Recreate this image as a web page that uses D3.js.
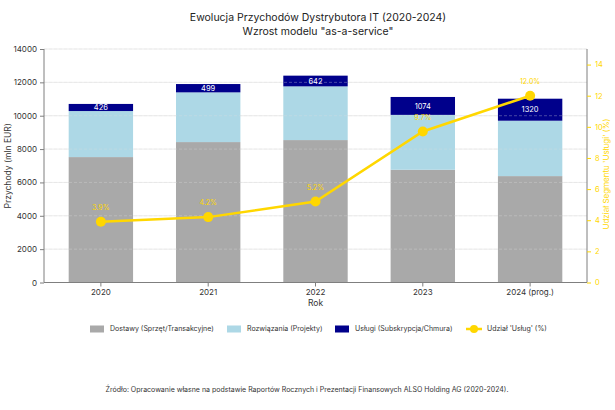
<!DOCTYPE html>
<html>
<head>
<meta charset="utf-8">
<script src="https://cdn.jsdelivr.net/npm/d3@7"></script>
<style>
  body { margin: 0; background: #fff; }
  text { font-family: Inter, "Open Sans", sans-serif; }
</style>
</head>
<body>
<div id="chart"></div>
<script>
var years = ["2020", "2021", "2022", "2023", "2024 (prog.)"];
var dostawy = [7520, 8420, 8540, 6760, 6380];
var rozwiazania = [2760, 2980, 3220, 3290, 3320];
var uslugi = [426, 499, 642, 1074, 1320];
var udzial = [3.9, 4.2, 5.2, 9.7, 12.0];
var leftTicks = [0, 2000, 4000, 6000, 8000, 10000, 12000, 14000];
var rightTicks = [0, 2, 4, 6, 8, 10, 12, 14];

var seriesNames = ["Dostawy (Sprzęt/Transakcyjne)", "Rozwiązania (Projekty)", "Usługi (Subskrypcja/Chmura)"];
var seriesColors = ["#a9a9a9", "#add8e6", "#00008b"];
var lineName = "Udział 'Usług' (%)";
var gold = "#ffd700";

var width = 615, height = 410;
var plotL = 44, plotR = 587, plotT = 49, plotB = 282.5;

var svg = d3.select("#chart").append("svg")
  .attr("width", width)
  .attr("height", height);

var x = d3.scaleBand().domain(years).range([plotL, plotR]).paddingInner(0.4).paddingOuter(0.23);
var y = d3.scaleLinear().domain([0, 14000]).range([plotB, plotT]);
var y2 = d3.scaleLinear().domain([0, 15]).range([plotB, plotT]);

// grid behind bars
svg.append("g").selectAll("line")
  .data(leftTicks.slice(1))
  .enter().append("line")
    .attr("x1", plotL).attr("x2", plotR)
    .attr("y1", function(d) { return y(d); })
    .attr("y2", function(d) { return y(d); })
    .attr("stroke", "#e6e6e6")
    .attr("stroke-width", 0.8);

// stacked data
var rows = years.map(function(yr, i) {
  return {year: yr, d: dostawy[i], r: rozwiazania[i], u: uslugi[i]};
});
var stack = d3.stack().keys(["d", "r", "u"])(rows);

svg.append("g").selectAll("g")
  .data(stack)
  .enter().append("g")
    .attr("fill", function(s, i) { return seriesColors[i]; })
  .selectAll("rect")
  .data(function(s) { return s; })
  .enter().append("rect")
    .attr("x", function(d) { return x(d.data.year); })
    .attr("width", x.bandwidth())
    .attr("y", function(d) { return y(d[1]); })
    .attr("height", function(d) { return y(d[0]) - y(d[1]); });

// faint dashed grid over bars
svg.append("g").selectAll("line")
  .data(leftTicks.slice(1))
  .enter().append("line")
    .attr("x1", plotL).attr("x2", plotR)
    .attr("y1", function(d) { return y(d); })
    .attr("y2", function(d) { return y(d); })
    .attr("stroke", "#e0e0e0")
    .attr("stroke-opacity", 0.45)
    .attr("stroke-dasharray", "3,2")
    .attr("stroke-width", 0.7);

// service labels
svg.append("g").selectAll("text")
  .data(stack[2])
  .enter().append("text")
    .attr("x", function(d) { return x(d.data.year) + x.bandwidth() / 2; })
    .attr("y", function(d) { return (y(d[0]) + y(d[1])) / 2; })
    .attr("dy", "0.35em")
    .attr("text-anchor", "middle")
    .attr("fill", "#fff")
    .attr("font-size", 7.5)
    .text(function(d) { return d.data.u; });

// axes
var axisColor = "#7f7f7f";
var gLeft = svg.append("g")
  .attr("transform", "translate(" + plotL + ",0)")
  .call(d3.axisLeft(y).tickValues(leftTicks).tickFormat(d3.format("d")).tickSize(4).tickPadding(3));
var gRight = svg.append("g")
  .attr("transform", "translate(" + plotR + ",0)")
  .call(d3.axisRight(y2).tickValues(rightTicks).tickFormat(d3.format("d")).tickSize(4).tickPadding(4));
var gBottom = svg.append("g")
  .attr("transform", "translate(0," + plotB + ")")
  .call(d3.axisBottom(x).tickSize(4).tickPadding(3));

[gLeft, gRight, gBottom].forEach(function(g) {
  g.select(".domain").attr("stroke", axisColor);
  g.selectAll(".tick line").attr("stroke", axisColor);
  g.selectAll("text").attr("font-size", 8).attr("fill", "#333")
    .style("font-family", "Inter, 'Open Sans', sans-serif");
});
gLeft.select(".domain").attr("d", "M0," + plotT + "V" + plotB);
gRight.select(".domain").attr("d", "M0," + plotT + "V" + plotB);
gBottom.select(".domain").attr("d", "M" + plotL + ",0H" + plotR);
gRight.selectAll("text").attr("fill", gold).attr("font-size", 7.5);
gRight.selectAll(".tick line").attr("stroke", gold);

// line
var line = d3.line()
  .x(function(d, i) { return x(years[i]) + x.bandwidth() / 2; })
  .y(function(d) { return y2(d); });

svg.append("path")
  .datum(udzial)
  .attr("fill", "none")
  .attr("stroke", gold)
  .attr("stroke-width", 2.5)
  .attr("d", line);

svg.append("g").selectAll("circle")
  .data(udzial)
  .enter().append("circle")
    .attr("cx", function(d, i) { return x(years[i]) + x.bandwidth() / 2; })
    .attr("cy", function(d) { return y2(d); })
    .attr("r", 5)
    .attr("fill", gold);

svg.append("g").selectAll("text")
  .data(udzial)
  .enter().append("text")
    .attr("x", function(d, i) { return x(years[i]) + x.bandwidth() / 2; })
    .attr("y", function(d) { return y2(d) - 12; })
    .attr("text-anchor", "middle")
    .attr("fill", gold)
    .attr("font-size", 7)
    .text(function(d) { return d.toFixed(1) + "%"; });

// titles
svg.append("text")
  .attr("x", 318).attr("y", 21)
  .attr("text-anchor", "middle")
  .attr("font-size", 10.5)
  .attr("fill", "#222")
  .text("Ewolucja Przychodów Dystrybutora IT (2020-2024)");
svg.append("text")
  .attr("x", 318).attr("y", 35)
  .attr("text-anchor", "middle")
  .attr("font-size", 10.5)
  .attr("fill", "#222")
  .text("Wzrost modelu \"as-a-service\"");

svg.append("text")
  .attr("transform", "translate(11," + ((plotT + plotB) / 2) + ") rotate(-90)")
  .attr("text-anchor", "middle")
  .attr("font-size", 8.5)
  .attr("fill", "#333")
  .text("Przychody (mln EUR)");
svg.append("text")
  .attr("transform", "translate(609,174) rotate(-90)")
  .attr("text-anchor", "middle")
  .attr("font-size", 8)
  .attr("fill", gold)
  .text("Udział Segmentu 'Usługi' (%)");
svg.append("text")
  .attr("x", (plotL + plotR) / 2).attr("y", 306)
  .attr("text-anchor", "middle")
  .attr("font-size", 8.5)
  .attr("fill", "#333")
  .text("Rok");

// legend
var legendY = 329;
var legendX = [90, 227, 335];
seriesNames.forEach(function(name, i) {
  svg.append("rect")
    .attr("x", legendX[i]).attr("y", legendY - 3.5)
    .attr("width", 14).attr("height", 7)
    .attr("fill", seriesColors[i]);
  svg.append("text")
    .attr("x", legendX[i] + 20).attr("y", legendY)
    .attr("dy", "0.35em")
    .attr("font-size", 7)
    .attr("fill", "#333")
    .text(name);
});
svg.append("line")
  .attr("x1", 466).attr("x2", 482)
  .attr("y1", legendY).attr("y2", legendY)
  .attr("stroke", gold).attr("stroke-width", 2.5);
svg.append("circle")
  .attr("cx", 474).attr("cy", legendY).attr("r", 4)
  .attr("fill", gold);
svg.append("text")
  .attr("x", 487).attr("y", legendY)
  .attr("dy", "0.35em")
  .attr("font-size", 7)
  .attr("fill", "#333")
  .text(lineName);

svg.append("text")
  .attr("x", 307).attr("y", 392)
  .attr("text-anchor", "middle")
  .attr("font-size", 7)
  .attr("fill", "#333")
  .text("Źródło: Opracowanie własne na podstawie Raportów Rocznych i Prezentacji Finansowych ALSO Holding AG (2020-2024).");
</script>
</body>
</html>
